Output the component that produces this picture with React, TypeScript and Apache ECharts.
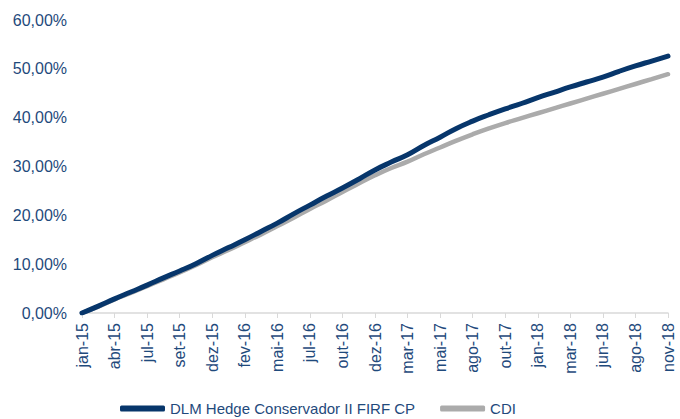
import React, { useEffect, useRef } from "react";
import * as echarts from "echarts";

const tickLabels = [
  "jan-15", "abr-15", "jul-15", "set-15", "dez-15", "fev-16", "mai-16", "jul-16",
  "out-16", "dez-16", "mar-17", "mai-17", "ago-17", "out-17", "jan-18", "mar-18",
  "jun-18", "ago-18", "nov-18",
];

// values at every tick and at the midpoint between ticks (percent)
const dlmValues = [
  0, 1.4, 2.9, 4.3, 5.7, 7.2, 8.6, 10.1, 11.8, 13.4, 15.0, 16.7, 18.4, 20.3, 22.1, 23.9,
  25.6, 27.4, 29.3, 30.9, 32.4, 34.3, 36.0, 37.8, 39.3, 40.6, 41.8, 42.9, 44.1, 45.2,
  46.3, 47.3, 48.3, 49.5, 50.6, 51.6, 52.6,
];
const cdiValues = [
  0, 1.3, 2.8, 4.1, 5.5, 6.9, 8.3, 9.8, 11.4, 12.9, 14.5, 16.1, 17.8, 19.5, 21.3, 23.0,
  24.8, 26.5, 28.2, 29.7, 31.0, 32.5, 33.9, 35.3, 36.6, 37.8, 38.9, 39.9, 40.9, 41.9,
  42.9, 43.9, 44.9, 45.9, 46.9, 47.9, 48.9,
];
const seriesNames = ["DLM Hedge Conservador II FIRF CP", "CDI"];

const categories: string[] = [];
tickLabels.forEach((l, i) => {
  categories.push(l);
  if (i < tickLabels.length - 1) categories.push("");
});

const TEXT = "#1F4A7C";
const FONT = "Liberation Sans, Arial, sans-serif";

export default function App() {
  const ref = useRef<HTMLDivElement>(null);
  useEffect(() => {
    if (!ref.current) return;
    const chart = echarts.init(ref.current, undefined, { renderer: "svg" });
    chart.setOption({
      animation: false,
      textStyle: { fontFamily: FONT },
      grid: { left: 82, right: 12, top: 20, bottom: 106, containLabel: false },
      legend: {
        top: 397,
        left: 115,
        padding: [4, 5, 2, 5],
        itemWidth: 45,
        itemHeight: 6,
        itemGap: 25,
        icon: "roundRect",
        textStyle: { color: TEXT, fontSize: 15, fontFamily: FONT, lineHeight: 15 },
        data: seriesNames,
      },
      xAxis: {
        type: "category",
        boundaryGap: false,
        data: categories,
        axisLine: { lineStyle: { color: "#D9D9D9", width: 1.5 } },
        axisTick: {
          alignWithLabel: true,
          length: 5,
          interval: (i: number) => i % 2 === 0,
          lineStyle: { color: "#D9D9D9" },
        },
        axisLabel: {
          rotate: 90,
          interval: (i: number) => i % 2 === 0,
          color: TEXT,
          fontSize: 16,
          fontFamily: FONT,
          margin: 10,
        },
        splitLine: { show: false },
      },
      yAxis: {
        type: "value",
        min: 0,
        max: 60,
        interval: 10,
        axisLine: { show: false },
        axisTick: { show: false },
        splitLine: { show: false },
        axisLabel: {
          color: TEXT,
          fontSize: 16,
          fontFamily: FONT,
          margin: 15,
          formatter: (v: number) => v.toFixed(2).replace(".", ",") + "%",
        },
      },
      series: [
        {
          name: seriesNames[1],
          type: "line",
          data: cdiValues,
          showSymbol: false,
          smooth: 0.5,
          lineStyle: { color: "#ABABAB", width: 4.5, cap: "round" },
          itemStyle: { color: "#ABABAB" },
          z: 2,
        },
        {
          name: seriesNames[0],
          type: "line",
          data: dlmValues,
          showSymbol: false,
          smooth: 0.5,
          lineStyle: { color: "#07366B", width: 5, cap: "round" },
          itemStyle: { color: "#07366B" },
          z: 3,
        },
      ],
    });
    return () => chart.dispose();
  }, []);
  return <div ref={ref} style={{ width: 680, height: 419, position: "absolute", left: 0, top: 0 }} />;
}
